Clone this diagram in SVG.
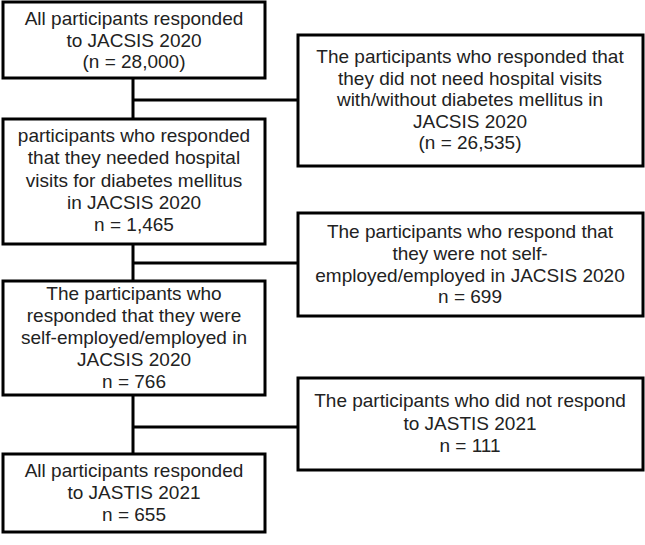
<svg xmlns="http://www.w3.org/2000/svg" width="645" height="545" viewBox="0 0 645 545">
<style>
.box{fill:#fff;stroke:#000;stroke-width:3}
.t{font-family:"Liberation Sans",Arial,sans-serif;font-size:19px;fill:#222;text-anchor:middle}
.c{stroke:#000;stroke-width:3;fill:none}
</style>
<rect width="645" height="545" fill="#fff"/>
<g id="connectors">
<path class="c" d="M133 78V119M133 100H298"/>
<path class="c" d="M133 244V281M133 263H298"/>
<path class="c" d="M133 395V454M133 427H298"/>
</g>
<g id="n1"><rect class="box" x="3" y="2" width="262" height="76"/>
<text class="t"><tspan x="134" y="25">All participants responded</tspan><tspan x="134" y="47">to JACSIS 2020</tspan><tspan x="134" y="68">(n = 28,000)</tspan></text></g>
<g id="n2"><rect class="box" x="298" y="35" width="345" height="131"/>
<text class="t"><tspan x="470" y="63">The participants who responded that</tspan><tspan x="470" y="84.5">they did not need hospital visits</tspan><tspan x="470" y="106">with/without diabetes mellitus in</tspan><tspan x="470" y="127.5">JACSIS 2020</tspan><tspan x="470" y="149">(n = 26,535)</tspan></text></g>
<g id="n3"><rect class="box" x="3" y="119" width="262" height="125"/>
<text class="t"><tspan x="134" y="142">participants who responded</tspan><tspan x="134" y="164">that they needed hospital</tspan><tspan x="134" y="187">visits for diabetes mellitus</tspan><tspan x="134" y="209">in JACSIS 2020</tspan><tspan x="134" y="231">n = 1,465</tspan></text></g>
<g id="n4"><rect class="box" x="298" y="213" width="345" height="103"/>
<text class="t"><tspan x="470" y="238">The participants who respond that</tspan><tspan x="470" y="260">they were not self-</tspan><tspan x="470" y="282">employed/employed in JACSIS 2020</tspan><tspan x="470" y="303">n = 699</tspan></text></g>
<g id="n5"><rect class="box" x="3" y="281" width="262" height="114"/>
<text class="t"><tspan x="134" y="300">The participants who</tspan><tspan x="134" y="322">responded that they were</tspan><tspan x="134" y="344">self-employed/employed in</tspan><tspan x="134" y="366">JACSIS 2020</tspan><tspan x="134" y="388">n = 766</tspan></text></g>
<g id="n6"><rect class="box" x="3" y="454" width="262" height="78"/>
<text class="t"><tspan x="134" y="477">All participants responded</tspan><tspan x="134" y="499">to JASTIS 2021</tspan><tspan x="134" y="521">n = 655</tspan></text></g>
<g id="n7"><rect class="box" x="298" y="378" width="345" height="92"/>
<text class="t"><tspan x="470" y="407">The participants who did not respond</tspan><tspan x="470" y="430">to JASTIS 2021</tspan><tspan x="470" y="452">n = 111</tspan></text></g>
</svg>
